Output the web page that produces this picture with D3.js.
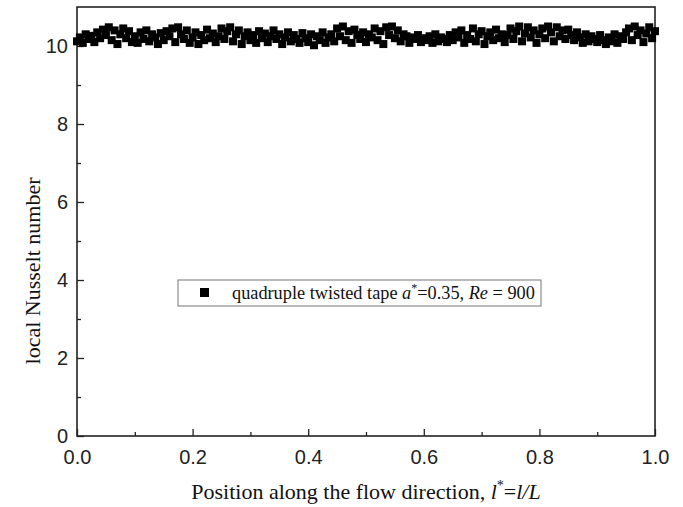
<!DOCTYPE html>
<html>
<head>
<meta charset="utf-8">
<script src="https://cdn.jsdelivr.net/npm/d3@7/dist/d3.min.js"></script>
<style>
  html, body { margin: 0; padding: 0; background: #fff; }
  svg { display: block; }
</style>
</head>
<body>
<svg id="chart" width="683" height="507"></svg>
<script>
// Local Nusselt number along the dimensionless tube position (x = i * 0.005)
const positionStep = 0.005;
const nusseltValues = [
  10.12, 10.22, 10.08, 10.30, 10.18, 10.26, 10.10, 10.35, 10.20, 10.42,
  10.28, 10.48, 10.15, 10.40, 10.05, 10.30, 10.45, 10.20, 10.38, 10.10,
  10.25, 10.08, 10.35, 10.18, 10.40, 10.12, 10.30, 10.22, 10.05, 10.33,
  10.15, 10.38, 10.25, 10.45, 10.10, 10.48, 10.30, 10.18, 10.40, 10.08,
  10.22, 10.35, 10.05, 10.28, 10.15, 10.42, 10.20, 10.32, 10.10, 10.25,
  10.45, 10.18, 10.38, 10.48, 10.12, 10.30, 10.40, 10.05, 10.25, 10.35,
  10.15, 10.28, 10.08, 10.38, 10.20, 10.32, 10.10, 10.25, 10.40, 10.18,
  10.30, 10.05, 10.22, 10.35, 10.12, 10.28, 10.18, 10.08, 10.33, 10.20,
  10.10, 10.30, 10.02, 10.25, 10.15, 10.35, 10.08, 10.22, 10.30, 10.12,
  10.45, 10.25, 10.50, 10.15, 10.38, 10.08, 10.42, 10.28, 10.18, 10.35,
  10.10, 10.30, 10.22, 10.45, 10.15, 10.38, 10.05, 10.48, 10.28, 10.50,
  10.20, 10.40, 10.12, 10.30, 10.25, 10.08, 10.22, 10.18, 10.28, 10.10,
  10.20, 10.15, 10.25, 10.08, 10.30, 10.12, 10.22, 10.18, 10.10, 10.28,
  10.15, 10.35, 10.22, 10.40, 10.08, 10.28, 10.18, 10.45, 10.12, 10.30,
  10.38, 10.05, 10.25, 10.35, 10.15, 10.42, 10.20, 10.30, 10.10, 10.28,
  10.45, 10.18, 10.38, 10.50, 10.12, 10.32, 10.48, 10.22, 10.40, 10.08,
  10.30, 10.45, 10.20, 10.50, 10.35, 10.12, 10.48, 10.25, 10.40, 10.18,
  10.42, 10.28, 10.15, 10.35, 10.22, 10.08, 10.30, 10.12, 10.25, 10.18,
  10.10, 10.28, 10.15, 10.05, 10.22, 10.12, 10.30, 10.08, 10.25, 10.18,
  10.35, 10.45, 10.15, 10.50, 10.28, 10.40, 10.10, 10.32, 10.48, 10.20, 10.38
];
const xTickLabels = ["0.0", "0.2", "0.4", "0.6", "0.8", "1.0"];
const yTickLabels = ["0", "2", "4", "6", "8", "10"];
const legendLabel = "quadruple twisted tape";

const points = nusseltValues.map((v, i) => ({ x: +(i * positionStep).toFixed(3), y: v }));

const svg = d3.select("#chart");
const margin = { left: 77, right: 28, top: 7, bottom: 71 };
const W = 683, H = 507;
const x = d3.scaleLinear().domain([0, 1]).range([margin.left, W - margin.right]);
const y = d3.scaleLinear().domain([0, 11]).range([H - margin.bottom, margin.top]);

const frameColor = "#222";
const sansFont = "'Liberation Sans', Arial, sans-serif";
const serifFont = "'Liberation Serif', 'Times New Roman', serif";

// Inward ticks: major with labels, minor without
const xMajor = xTickLabels.map(Number);
const xMinor = [0.1, 0.3, 0.5, 0.7, 0.9];
const yMajor = yTickLabels.map(Number);
const yMinor = [1, 3, 5, 7, 9];

const xAxis = svg.append("g")
  .attr("transform", `translate(0,${y(0)})`)
  .call(d3.axisBottom(x).tickValues(xMajor).tickSize(-7).tickPadding(14)
    .tickFormat((d, i) => xTickLabels[i]));
xAxis.append("g").call(d3.axisBottom(x).tickValues(xMinor).tickSize(-4).tickFormat(""));

const yAxis = svg.append("g")
  .attr("transform", `translate(${x(0)},0)`)
  .call(d3.axisLeft(y).tickValues(yMajor).tickSize(-7).tickPadding(9)
    .tickFormat((d, i) => yTickLabels[i]));
yAxis.append("g").call(d3.axisLeft(y).tickValues(yMinor).tickSize(-4).tickFormat(""));

svg.selectAll(".domain").remove();
svg.selectAll(".tick line").attr("stroke", frameColor).attr("stroke-width", 1.3);
svg.selectAll(".tick text")
  .attr("fill", "#222")
  .style("font-family", sansFont)
  .style("font-size", "20px");

// Plot frame
svg.append("rect")
  .attr("x", x(0)).attr("y", y(11))
  .attr("width", x(1) - x(0)).attr("height", y(0) - y(11))
  .attr("fill", "none").attr("stroke", frameColor).attr("stroke-width", 1.6);

// Square markers
const ms = 8;
svg.append("g").selectAll("rect.pt").data(points).join("rect")
  .attr("class", "pt")
  .attr("x", d => x(d.x) - ms / 2)
  .attr("y", d => y(d.y) - ms / 2)
  .attr("width", ms).attr("height", ms)
  .attr("fill", "#000");

// Legend
const lg = svg.append("g");
lg.append("rect")
  .attr("x", 178).attr("y", 280).attr("width", 363).attr("height", 26)
  .attr("fill", "#fff").attr("stroke", "#777").attr("stroke-width", 1);
lg.append("rect")
  .attr("x", 200).attr("y", 288).attr("width", 9).attr("height", 9).attr("fill", "#000");
const lt = lg.append("text")
  .attr("x", 232).attr("y", 299)
  .style("font-family", serifFont).style("font-size", "18.3px").attr("fill", "#111");
lt.append("tspan").text(legendLabel + " ");
lt.append("tspan").style("font-style", "italic").text("a");
lt.append("tspan").attr("dy", -7).style("font-size", "12px").text("*");
lt.append("tspan").attr("dy", 7).text("=0.35, ");
lt.append("tspan").style("font-style", "italic").text("Re");
lt.append("tspan").text(" = 900");

// Axis titles
const xt = svg.append("text")
  .attr("x", (x(0) + x(1)) / 2).attr("y", 499)
  .attr("text-anchor", "middle")
  .style("font-family", serifFont).style("font-size", "22px").attr("fill", "#111");
xt.append("tspan").text("Position along the flow direction, ");
xt.append("tspan").style("font-style", "italic").text("l");
xt.append("tspan").attr("dy", -9).style("font-size", "14px").text("*");
xt.append("tspan").attr("dy", 9).text("=");
xt.append("tspan").style("font-style", "italic").text("l/L");

svg.append("text")
  .attr("transform", `translate(40,271) rotate(-90)`)
  .attr("text-anchor", "middle")
  .style("font-family", serifFont).style("font-size", "22px").attr("fill", "#111")
  .text("local Nusselt number");
</script>
</body>
</html>
